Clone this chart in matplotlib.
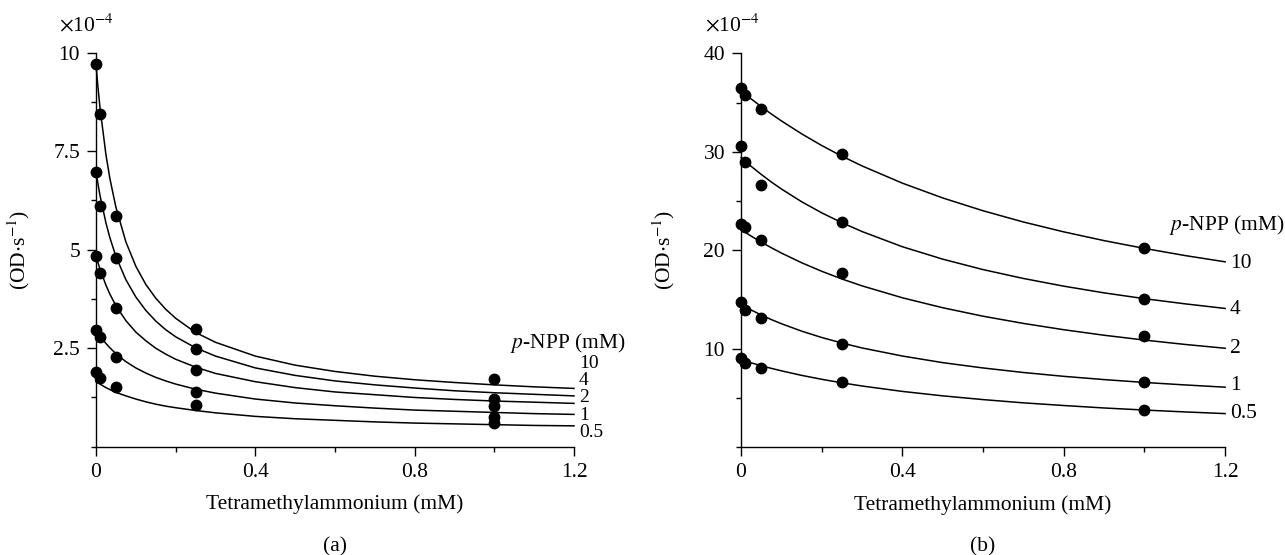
"""Tetramethylammonium inhibition of p-NPP hydrolysis, panels (a) and (b)."""

import matplotlib

matplotlib.use("Agg")
import matplotlib.pyplot as plt
from matplotlib.ticker import MultipleLocator

plt.rcParams["font.family"] = ["Liberation Serif", "DejaVu Serif"]
plt.rcParams["mathtext.fontset"] = "stix"

NPP_LEVELS = ["10", "4", "2", "1", "0.5"]

# measured points (x in mM, rate in 1e-4 OD/s)
TMA_POINTS = [0, 0.01, 0.05, 0.25, 1.0]

A_POINTS = {
    "10": [9.71, 8.44, 5.85, 2.99, 1.72],
    "4": [6.98, 6.11, 4.78, 2.48, 1.21],
    "2": [4.84, 4.40, 3.52, 1.95, 1.03],
    "1": [2.96, 2.79, 2.28, 1.38, 0.76],
    "0.5": [1.90, 1.74, 1.52, 1.06, 0.61],
}

B_POINTS = {
    "10": [36.5, 35.8, 34.3, 29.8, 20.2],
    "4": [30.6, 29.0, 26.6, 22.9, 15.1],
    "2": [22.7, 22.4, 21.1, 17.7, 11.3],
    "1": [14.8, 14.0, 13.1, 10.5, 6.6],
    "0.5": [9.05, 8.54, 8.10, 6.67, 3.8],
}

# fitted curves
A_CURVE_X = [0, 0.005, 0.01, 0.025, 0.035, 0.05, 0.075, 0.1, 0.125, 0.15,
             0.175, 0.2, 0.25, 0.3, 0.4, 0.5, 0.6, 0.7, 0.8, 0.9, 1.0, 1.1, 1.2]

A_CURVES = {
    "10": [9.70, 9.12, 8.61, 7.41, 6.80, 6.08, 5.20, 4.58, 4.12, 3.77,
           3.49, 3.26, 2.90, 2.65, 2.30, 2.07, 1.91, 1.79, 1.70, 1.63,
           1.57, 1.52, 1.48],
    "4": [6.98, 6.67, 6.38, 5.68, 5.30, 4.83, 4.24, 3.80, 3.46, 3.19,
          2.97, 2.79, 2.51, 2.30, 2.00, 1.81, 1.67, 1.57, 1.49, 1.42,
          1.37, 1.33, 1.29],
    "2": [4.84, 4.67, 4.51, 4.10, 3.87, 3.58, 3.20, 2.91, 2.69, 2.50,
          2.35, 2.22, 2.02, 1.86, 1.65, 1.50, 1.39, 1.32, 1.25, 1.20,
          1.16, 1.13, 1.10],
    "1": [2.96, 2.88, 2.81, 2.62, 2.51, 2.36, 2.16, 2.00, 1.87, 1.76,
          1.67, 1.59, 1.46, 1.36, 1.21, 1.11, 1.04, 0.98, 0.93, 0.90,
          0.87, 0.84, 0.82],
    "0.5": [1.65, 1.62, 1.59, 1.50, 1.45, 1.38, 1.29, 1.21, 1.14, 1.08,
            1.03, 0.99, 0.92, 0.86, 0.77, 0.71, 0.67, 0.63, 0.60, 0.58,
            0.56, 0.54, 0.53],
}

B_CURVE_X = [0, 0.01, 0.025, 0.05, 0.075, 0.1, 0.15, 0.2, 0.25, 0.3,
             0.4, 0.5, 0.6, 0.7, 0.8, 0.9, 1.0, 1.1, 1.2]

B_CURVES = {
    "10": [36.2, 35.86, 35.37, 34.59, 33.84, 33.14, 31.83, 30.64, 29.56, 28.57,
           26.82, 25.32, 24.02, 22.88, 21.88, 20.99, 20.20, 19.48, 18.84],
    "4": [29.4, 29.05, 28.53, 27.71, 26.94, 26.23, 24.94, 23.81, 22.81, 21.91,
          20.37, 19.11, 18.05, 17.15, 16.37, 15.69, 15.10, 14.58, 14.11],
    "2": [22.1, 21.84, 21.45, 20.84, 20.27, 19.73, 18.75, 17.88, 17.10, 16.40,
          15.19, 14.18, 13.32, 12.59, 11.95, 11.39, 10.90, 10.46, 10.07],
    "1": [14.5, 14.27, 13.95, 13.45, 12.98, 12.56, 11.81, 11.16, 10.60, 10.10,
          9.28, 8.61, 8.07, 7.61, 7.22, 6.89, 6.60, 6.35, 6.12],
    "0.5": [8.9, 8.77, 8.59, 8.30, 8.03, 7.78, 7.32, 6.92, 6.56, 6.24,
            5.69, 5.24, 4.86, 4.53, 4.26, 4.01, 3.80, 3.61, 3.44],
}

A_YTICKS = [2.5, 5, 7.5, 10]
A_YTICKLABELS = ["2.5", "5", "7.5", "10"]
B_YTICKS = [10, 20, 30, 40]
X_TICKS = [0, 0.4, 0.8, 1.2]
X_TICKLABELS = ["0", "0.4", "0.8", "1.2"]

FS = 15.5


def style_axis(ax, ylim, yticks, yticklabels, yminor):
    ax.set_xlim(0, 1.2)
    ax.set_ylim(*ylim)
    for side in ("top", "right"):
        ax.spines[side].set_visible(False)
    for side in ("left", "bottom"):
        ax.spines[side].set_linewidth(1.0)
    ax.set_xticks(X_TICKS)
    ax.set_xticklabels(X_TICKLABELS)
    ax.set_yticks(yticks)
    ax.set_yticklabels(yticklabels)
    ax.xaxis.set_minor_locator(MultipleLocator(0.2))
    ax.yaxis.set_minor_locator(MultipleLocator(yminor))
    ax.tick_params(which="major", direction="out", length=6.5, width=1.0,
                   labelsize=FS, pad=5)
    ax.tick_params(which="minor", direction="out", length=3.5, width=1.0)
    ax.set_xlabel("Tetramethylammonium (mM)", fontsize=FS, labelpad=9)


def draw_panel(ax, curve_x, points, curves, label_y, label_fs, head_xy):
    for level in NPP_LEVELS:
        ax.plot(curve_x, curves[level], color="black", lw=1.1, clip_on=False)
        ax.plot(TMA_POINTS, points[level], "o", color="black", ms=7.5,
                clip_on=False, zorder=5)
    for level, y in zip(NPP_LEVELS, label_y):
        ax.text(1.212, y, level, fontsize=label_fs, va="center", ha="left",
                clip_on=False)
    ax.text(head_xy[0], head_xy[1], r"$\it{p}$-NPP (mM)", fontsize=FS,
            va="center", ha="left", clip_on=False)


def main():
    fig = plt.figure(figsize=(12.85, 5.55), dpi=100)

    ax_a = fig.add_axes([0.0747, 0.1951, 0.3720, 0.7099])
    style_axis(ax_a, (0, 10), A_YTICKS, A_YTICKLABELS, 1.25)
    draw_panel(ax_a, A_CURVE_X, A_POINTS, A_CURVES,
               [2.10, 1.67, 1.24, 0.80, 0.37], 14, (1.04, 2.63))

    ax_b = fig.add_axes([0.5767, 0.1937, 0.3767, 0.7103])
    style_axis(ax_b, (0, 40), B_YTICKS, [str(t) for t in B_YTICKS], 5)
    draw_panel(ax_b, B_CURVE_X, B_POINTS, B_CURVES,
               [18.7, 14.05, 10.0, 6.34, 3.5], FS, (1.06, 22.6))

    for ax in (ax_a, ax_b):
        ax.set_ylabel(r"(OD$\cdot$s$^{-1}$)", fontsize=FS)
    ax_a.yaxis.set_label_coords(-0.134, 0.5)
    ax_b.yaxis.set_label_coords(-0.132, 0.5)

    fig.text(59 / 1285, 1 - 25 / 555, r"$\times$10$^{-4}$", fontsize=FS,
             ha="left", va="center")
    fig.text(705 / 1285, 1 - 25 / 555, r"$\times$10$^{-4}$", fontsize=FS,
             ha="left", va="center")
    fig.text(335 / 1285, 1 - 547 / 555, "(a)", fontsize=FS, ha="center",
             va="center")
    fig.text(983 / 1285, 1 - 547 / 555, "(b)", fontsize=FS, ha="center",
             va="center")

    fig.savefig("out.png", dpi=100)
    plt.close(fig)


if __name__ == "__main__":
    main()
